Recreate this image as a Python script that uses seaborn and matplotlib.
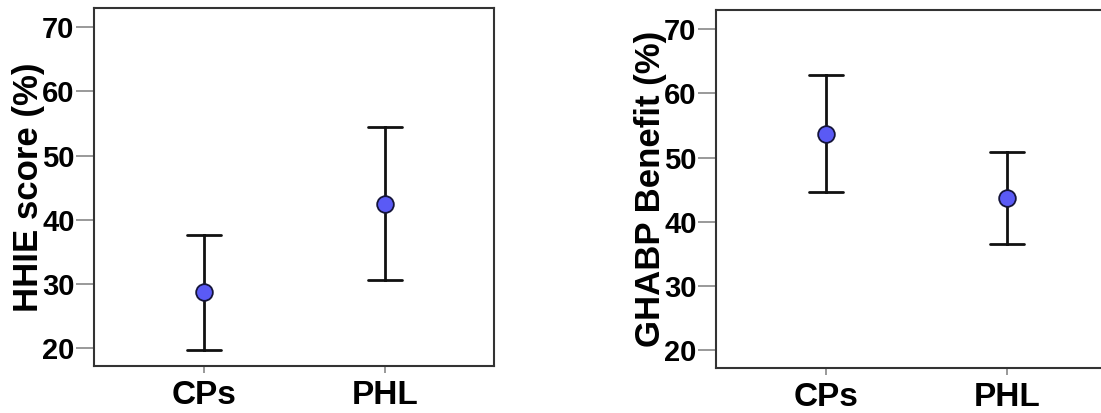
import matplotlib
matplotlib.use("Agg")
import matplotlib.pyplot as plt
import numpy as np
import pandas as pd
import seaborn as sns

groups = ["CPs", "PHL"]

# HHIE score (%): mean with lower / upper error-bar ends
hhie_mean = [28.7, 42.5]
hhie_low = [19.7, 30.6]
hhie_high = [37.6, 54.4]

# GHABP benefit (%)
ghabp_mean = [53.7, 43.7]
ghabp_low = [44.6, 36.5]
ghabp_high = [62.8, 50.9]


def long_table(mean, low, high):
    rows = []
    for g, m, lo, hi in zip(groups, mean, low, high):
        for v in (lo, m, hi):
            rows.append({"group": g, "value": v})
    return pd.DataFrame(rows)


sns.set_style("ticks")
plt.rcParams["font.family"] = ["Liberation Sans", "DejaVu Sans"]
plt.rcParams["font.weight"] = "bold"
plt.rcParams["text.color"] = "black"
plt.rcParams["axes.labelcolor"] = "black"
plt.rcParams["xtick.labelcolor"] = "black"
plt.rcParams["ytick.labelcolor"] = "black"

fig = plt.figure(figsize=(11.01, 4.13), dpi=100)
W, H = 1101, 413
ax1 = fig.add_axes([94 / W, (H - 366) / H, 400 / W, 358 / H])
ax2 = fig.add_axes([716 / W, (H - 368) / H, 400 / W, 358 / H])

panels = [
    (ax1, hhie_mean, hhie_low, hhie_high, "HHIE score (%)"),
    (ax2, ghabp_mean, ghabp_low, ghabp_high, "GHABP Benefit (%)"),
]

for ax, mean, low, high, label in panels:
    df = long_table(mean, low, high)
    sns.pointplot(
        data=df,
        x="group",
        y="value",
        estimator="median",
        errorbar=lambda v: (np.min(v), np.max(v)),
        linestyle="none",
        color="#5a5af5",
        markersize=12,
        markeredgecolor="#15153a",
        markeredgewidth=1.3,
        capsize=0.19,
        err_kws={"color": "#111111", "linewidth": 2},
        ax=ax,
    )
    # markers above the error bars
    for ln in ax.lines:
        if ln.get_marker() not in (None, "None", "", " "):
            ln.set_zorder(5)

    ax.set_xlim(-0.608, 1.602)
    ax.set_ylim(17.2, 73.0)
    ax.set_yticks([20, 30, 40, 50, 60, 70])
    ax.set_xlabel("")
    ax.set_ylabel(label, fontsize=25, fontweight="bold")
    ax.yaxis.set_label_coords(-0.122, 0.5)

    for s in ax.spines.values():
        s.set_visible(True)
        s.set_color("#333333")
        s.set_linewidth(1.5)

    ax.tick_params(axis="y", length=13, width=1.2, color="#888888", pad=1,
                   labelsize=21)
    ax.tick_params(axis="x", length=5, width=1.2, color="#888888", pad=5,
                   labelsize=24)
    for t in ax.get_xticklabels() + ax.get_yticklabels():
        t.set_fontweight("bold")

fig.savefig("out.png", dpi=100)
